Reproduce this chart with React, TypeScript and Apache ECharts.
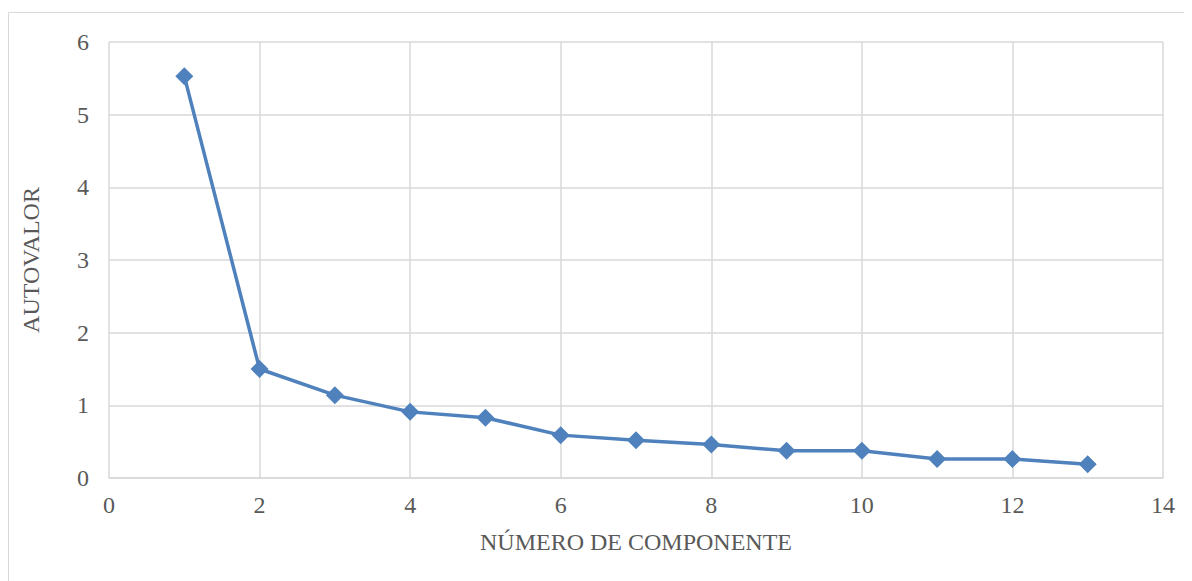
import React, { useEffect, useRef } from "react";
import * as echarts from "echarts";

const components = [1, 2, 3, 4, 5, 6, 7, 8, 9, 10, 11, 12, 13];
const eigenvalues = [5.53, 1.5, 1.14, 0.91, 0.83, 0.59, 0.52, 0.46, 0.375, 0.375, 0.26, 0.26, 0.19];
const xTitle = "NÚMERO DE COMPONENTE";
const yTitle = "AUTOVALOR";

const FONT = '"Liberation Serif", "Times New Roman", serif';
const GRAY = "#595959";
const GRID = "#d9d9d9";

export default function App() {
  const ref = useRef<HTMLDivElement>(null);
  useEffect(() => {
    if (!ref.current) return;
    const chart = echarts.init(ref.current, null, { renderer: "svg" });
    chart.setOption({
      animation: false,
      backgroundColor: "#ffffff",
      graphic: [
        {
          type: "rect",
          shape: { x: 0.5, y: 4.5, width: 1300, height: 700 },
          style: { fill: "none", stroke: GRID, lineWidth: 1 },
          silent: true,
        },
      ],
      grid: { left: 101, top: 34, right: 29, bottom: 103 },
      xAxis: {
        type: "value",
        min: 0,
        max: 14,
        interval: 2,
        name: xTitle,
        nameLocation: "middle",
        nameGap: 52,
        nameTextStyle: { fontFamily: FONT, fontSize: 24, color: GRAY },
        axisLine: { show: true, lineStyle: { color: GRID, width: 1.5 } },
        axisTick: { show: false },
        axisLabel: { fontFamily: FONT, fontSize: 24, color: GRAY, margin: 15 },
        splitLine: { show: true, lineStyle: { color: GRID, width: 1.5 } },
      },
      yAxis: {
        type: "value",
        min: 0,
        max: 6,
        interval: 1,
        name: yTitle,
        nameLocation: "middle",
        nameGap: 66,
        nameTextStyle: { fontFamily: FONT, fontSize: 24, color: GRAY },
        axisLine: { show: false },
        axisTick: { show: false },
        axisLabel: { fontFamily: FONT, fontSize: 24, color: GRAY, margin: 20 },
        splitLine: { show: true, lineStyle: { color: GRID, width: 1.5 } },
      },
      series: [
        {
          type: "line",
          data: components.map((c, i) => [c, eigenvalues[i]]),
          symbol: "diamond",
          symbolSize: 18,
          lineStyle: { color: "#4F81BD", width: 3.5 },
          itemStyle: { color: "#4F81BD" },
        },
      ],
    });
    return () => chart.dispose();
  }, []);
  return <div ref={ref} style={{ width: 1184, height: 573 }} />;
}
